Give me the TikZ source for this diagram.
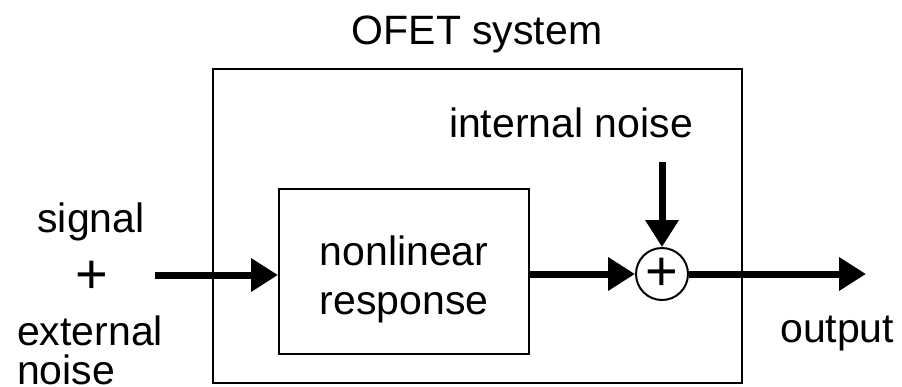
\documentclass[tikz,border=0pt]{standalone}
\usepackage{fontspec}
\setmainfont{Liberation Sans}
\usetikzlibrary{arrows.meta,positioning}

\begin{document}
\begin{tikzpicture}[x=1pt, y=-1pt,
  box/.style={draw, line width=2pt, inner sep=0pt},
  flow/.style={line width=7pt, -{Triangle[length=27pt,width=32pt]}},
  lbl/.style={font=\fontsize{41}{49}\selectfont, inner sep=0pt}]
\useasboundingbox (0,0) rectangle (902,386);
\node[box, minimum width=529pt, minimum height=314pt] (sys) at (477.5,226) {};
\node[lbl, anchor=base] (title) at (477,44) {OFET system};
\node[box, minimum width=250pt, minimum height=165pt] (nl) at (404,271.5) {};
\node[lbl, align=center] (nltext) at (404,279) {nonlinear\\response};
\node[box, circle, minimum size=52pt, font=\fontsize{56}{56}\selectfont] (sum) at (662,274) {+};
\node[lbl, anchor=base] (inoise) at (571,137) {internal noise};
\node[lbl, anchor=base] (sig) at (91,232) {signal};
\node[lbl, font=\fontsize{56}{56}\selectfont] (plus) at (92,277) {+};
\node[lbl, font=\fontsize{41}{39}\selectfont, align=left, anchor=base west] (ext) at (17,384) {external\\noise};
\node[lbl, anchor=base west] (out) at (780,342) {output};
\coordinate (src) at (155,275);
\coordinate (nz) at (662,162);
\coordinate (sink) at (866,274);
\draw[flow] (src) -- (src -| nl.west);
\draw[flow] (nl.east |- sum) -- (sum.west);
\draw[flow] (nz) -- (sum.north);
\draw[line width=7pt] (sum.east) -- (sys.east |- sum);
\draw[flow] (sys.east |- sum) -- (sink);
\end{tikzpicture}
\end{document}
